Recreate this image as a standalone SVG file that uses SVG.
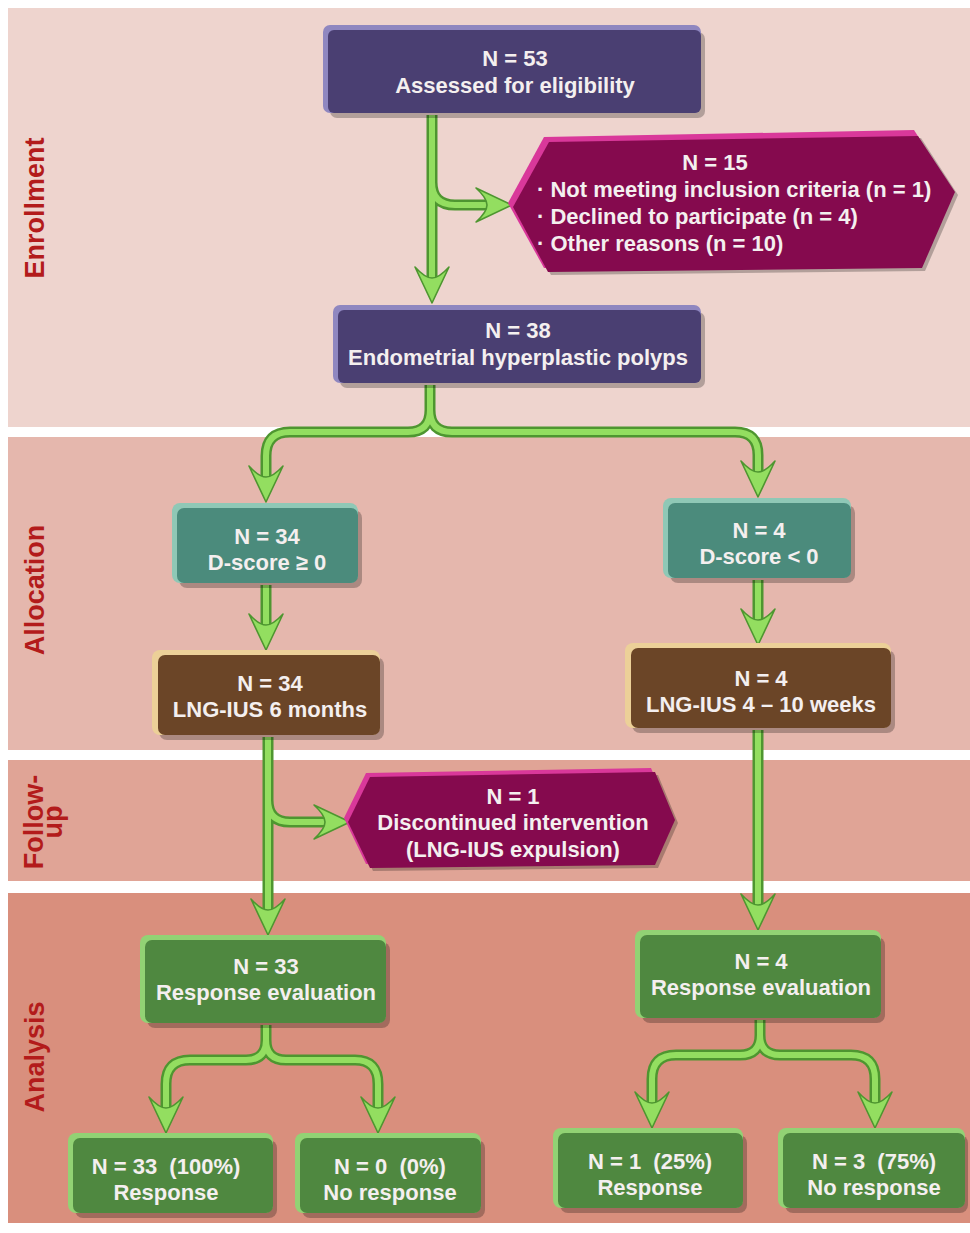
<svg xmlns="http://www.w3.org/2000/svg" width="970" height="1233" viewBox="0 0 970 1233">
<defs>
<style>
.lbl{font-family:"Liberation Sans",Arial,sans-serif;font-weight:bold;font-size:27px;fill:#b31b1b}
.t{font-family:"Liberation Sans",Arial,sans-serif;font-weight:bold;font-size:22px;fill:#f4efef;text-anchor:middle}
.tl{font-family:"Liberation Sans",Arial,sans-serif;font-weight:bold;font-size:22px;fill:#f4efef}
.co{fill:none;stroke:#4e9630;stroke-width:11;stroke-linejoin:round}
.ci{fill:none;stroke:#93de60;stroke-width:6;stroke-linejoin:round}
.ah{fill:#93de60;stroke:#4e9630;stroke-width:1.6;stroke-linejoin:round}
.sh{fill:#000;opacity:0.25}
.pb{fill:#8f87c0}.pm{fill:#4a3f72}
.mb{fill:#d9389a}.mm{fill:#850a4e}
.tb{fill:#8fc8b6}.tm{fill:#4b8b7c}
.bb{fill:#ecd098}.bm{fill:#6b4527}
.gb{fill:#92d274}.gm{fill:#4f8840}
</style>
<path id="ah" class="ah" d="M0,0 L-17,-36 Q-7,-25 0,-25 Q7,-25 17,-36 Z"/>
</defs>
<rect x="0" y="0" width="970" height="1233" fill="#ffffff"/>
<g id="bands">
<rect x="8" y="8" width="962" height="419" fill="#eed4ce"/>
<rect x="8" y="437" width="962" height="313" fill="#e5b7ad"/>
<rect x="8" y="760" width="962" height="121" fill="#e0a496"/>
<rect x="8" y="893" width="962" height="330" fill="#d98f7d"/>
<text class="lbl" transform="translate(44,208) rotate(-90)" text-anchor="middle">Enrollment</text>
<text class="lbl" transform="translate(44,590) rotate(-90)" text-anchor="middle">Allocation</text>
<text class="lbl" transform="translate(43,822) rotate(-90)" text-anchor="middle">Follow-</text>
<text class="lbl" transform="translate(62,822) rotate(-90)" text-anchor="middle">up</text>
<text class="lbl" transform="translate(44,1057) rotate(-90)" text-anchor="middle">Analysis</text>
</g>
<g id="connectors">
<path class="co" d="M432,115 L432,285 M432,182 Q432,205 455,205 L490,205 M430,385 L430,410 Q430,432 408,432 L290,432 Q266,432 266,456 L266,478 M430,410 Q430,432 452,432 L735,432 Q758,432 758,455 L758,473 M266,585 L266,628 M758,580 L758,623 M268,737 L268,912 M268,800 Q268,822 290,822 L326,822 M758,730 L758,908 M266,1025 L266,1040 Q266,1060 246,1060 L190,1060 Q166,1060 166,1084 L166,1110 M266,1040 Q266,1060 286,1060 L355,1060 Q378,1060 378,1084 L378,1110 M760,1020 L760,1035 Q760,1055 740,1055 L676,1055 Q652,1055 652,1079 L652,1105 M760,1035 Q760,1055 780,1055 L851,1055 Q875,1055 875,1079 L875,1105"/>
<path class="ci" d="M432,115 L432,285 M432,182 Q432,205 455,205 L490,205 M430,385 L430,410 Q430,432 408,432 L290,432 Q266,432 266,456 L266,478 M430,410 Q430,432 452,432 L735,432 Q758,432 758,455 L758,473 M266,585 L266,628 M758,580 L758,623 M268,737 L268,912 M268,800 Q268,822 290,822 L326,822 M758,730 L758,908 M266,1025 L266,1040 Q266,1060 246,1060 L190,1060 Q166,1060 166,1084 L166,1110 M266,1040 Q266,1060 286,1060 L355,1060 Q378,1060 378,1084 L378,1110 M760,1020 L760,1035 Q760,1055 740,1055 L676,1055 Q652,1055 652,1079 L652,1105 M760,1035 Q760,1055 780,1055 L851,1055 Q875,1055 875,1079 L875,1105"/>
<use href="#ah" transform="translate(432,303)"/>
<use href="#ah" transform="translate(512,205) rotate(-90)"/>
<use href="#ah" transform="translate(266,502)"/>
<use href="#ah" transform="translate(758,497)"/>
<use href="#ah" transform="translate(266,650)"/>
<use href="#ah" transform="translate(758,645)"/>
<use href="#ah" transform="translate(268,935)"/>
<use href="#ah" transform="translate(350,822) rotate(-90)"/>
<use href="#ah" transform="translate(758,930)"/>
<use href="#ah" transform="translate(166,1133)"/>
<use href="#ah" transform="translate(378,1133)"/>
<use href="#ah" transform="translate(652,1128)"/>
<use href="#ah" transform="translate(875,1128)"/>
</g>
<g id="n53">
<rect class="sh" x="330" y="32" width="375" height="86" rx="7"/>
<rect class="pb" x="323" y="25" width="378" height="88" rx="7"/>
<rect class="pm" x="328" y="30" width="373" height="83" rx="6"/>
<text class="t" x="515" y="66">N = 53</text>
<text class="t" x="515" y="93">Assessed for eligibility</text>
</g>
<g id="n15">
<polygon class="sh" points="551,145 921,138 958,195 925,271 551,275 515,210"/>
<polygon class="mb" points="544,137 914,130 951,188 918,264 544,268 508,203"/>
<polygon class="mm" points="549,142 918,136 955,192 922,268 548,272 513,207"/>
<text class="t" x="715" y="170">N = 15</text>
<text class="tl" x="537" y="197">· Not meeting inclusion criteria (n = 1)</text>
<text class="tl" x="537" y="224">· Declined to participate (n = 4)</text>
<text class="tl" x="537" y="251">· Other reasons (n = 10)</text>
</g>
<g id="n38">
<rect class="sh" x="340" y="312" width="365" height="76" rx="7"/>
<rect class="pb" x="333" y="305" width="368" height="78" rx="7"/>
<rect class="pm" x="338" y="310" width="363" height="73" rx="6"/>
<text class="t" x="518" y="338">N = 38</text>
<text class="t" x="518" y="365">Endometrial hyperplastic polyps</text>
</g>
<g id="d34">
<rect class="sh" x="179" y="510" width="183" height="78" rx="8"/>
<rect class="tb" x="172" y="503" width="186" height="80" rx="8"/>
<rect class="tm" x="177" y="508" width="181" height="75" rx="7"/>
<text class="t" x="267" y="544">N = 34</text>
<text class="t" x="267" y="570">D-score ≥ 0</text>
</g>
<g id="d4">
<rect class="sh" x="670" y="505" width="185" height="78" rx="8"/>
<rect class="tb" x="663" y="498" width="188" height="80" rx="8"/>
<rect class="tm" x="668" y="503" width="183" height="75" rx="7"/>
<text class="t" x="759" y="538">N = 4</text>
<text class="t" x="759" y="564">D-score &lt; 0</text>
</g>
<g id="lng6">
<rect class="sh" x="159" y="657" width="225" height="83" rx="8"/>
<rect class="bb" x="152" y="650" width="228" height="85" rx="8"/>
<rect class="bm" x="158" y="655" width="222" height="80" rx="7"/>
<text class="t" x="270" y="691">N = 34</text>
<text class="t" x="270" y="717">LNG-IUS 6 months</text>
</g>
<g id="lng4">
<rect class="sh" x="632" y="650" width="263" height="83" rx="8"/>
<rect class="bb" x="625" y="643" width="266" height="85" rx="8"/>
<rect class="bm" x="631" y="648" width="260" height="80" rx="7"/>
<text class="t" x="761" y="686">N = 4</text>
<text class="t" x="761" y="712">LNG-IUS 4 – 10 weeks</text>
</g>
<g id="n1">
<polygon class="sh" points="373,780 658,775 678,823 658,868 373,871 351,825"/>
<polygon class="mb" points="366,773 651,768 671,816 651,861 366,864 344,818"/>
<polygon class="mm" points="370,777 655,772 675,820 655,865 370,868 348,822"/>
<text class="t" x="513" y="804">N = 1</text>
<text class="t" x="513" y="830">Discontinued intervention</text>
<text class="t" x="513" y="857">(LNG-IUS expulsion)</text>
</g>
<g id="r33">
<rect class="sh" x="147" y="942" width="243" height="86" rx="8"/>
<rect class="gb" x="140" y="935" width="246" height="88" rx="8"/>
<rect class="gm" x="145" y="940" width="241" height="83" rx="7"/>
<text class="t" x="266" y="974">N = 33</text>
<text class="t" x="266" y="1000">Response evaluation</text>
</g>
<g id="r4">
<rect class="sh" x="642" y="937" width="243" height="86" rx="8"/>
<rect class="gb" x="635" y="930" width="246" height="88" rx="8"/>
<rect class="gm" x="640" y="935" width="241" height="83" rx="7"/>
<text class="t" x="761" y="969">N = 4</text>
<text class="t" x="761" y="995">Response evaluation</text>
</g>
<g id="a33">
<rect class="sh" x="75" y="1140" width="202" height="78" rx="8"/>
<rect class="gb" x="68" y="1133" width="205" height="80" rx="8"/>
<rect class="gm" x="73" y="1138" width="200" height="75" rx="7"/>
<text class="t" x="166" y="1174" xml:space="preserve">N = 33  (100%)</text>
<text class="t" x="166" y="1200">Response</text>
</g>
<g id="a0">
<rect class="sh" x="302" y="1140" width="183" height="78" rx="8"/>
<rect class="gb" x="295" y="1133" width="186" height="80" rx="8"/>
<rect class="gm" x="300" y="1138" width="181" height="75" rx="7"/>
<text class="t" x="390" y="1174" xml:space="preserve">N = 0  (0%)</text>
<text class="t" x="390" y="1200">No response</text>
</g>
<g id="b1">
<rect class="sh" x="560" y="1135" width="187" height="78" rx="8"/>
<rect class="gb" x="553" y="1128" width="190" height="80" rx="8"/>
<rect class="gm" x="558" y="1133" width="185" height="75" rx="7"/>
<text class="t" x="650" y="1169" xml:space="preserve">N = 1  (25%)</text>
<text class="t" x="650" y="1195">Response</text>
</g>
<g id="b3">
<rect class="sh" x="785" y="1135" width="183" height="78" rx="8"/>
<rect class="gb" x="778" y="1128" width="187" height="80" rx="8"/>
<rect class="gm" x="783" y="1133" width="182" height="75" rx="7"/>
<text class="t" x="874" y="1169" xml:space="preserve">N = 3  (75%)</text>
<text class="t" x="874" y="1195">No response</text>
</g>
</svg>
